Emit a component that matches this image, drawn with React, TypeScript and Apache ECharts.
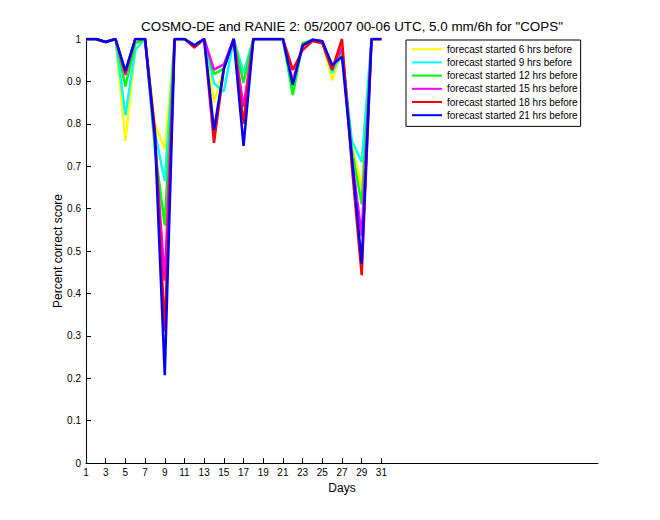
import React, { useEffect, useRef } from "react";
import * as echarts from "echarts";

const days = Array.from({ length: 31 }, (_, i) => i + 1);

const seriesNames = [
  "forecast started 6 hrs before",
  "forecast started 9 hrs before",
  "forecast started 12 hrs before",
  "forecast started 15 hrs before",
  "forecast started 18 hrs before",
  "forecast started 21 hrs before",
];

const seriesColors = ["#ffff00", "#00ffff", "#00ff00", "#ff00ff", "#ff0000", "#0000ff"];

const fc06 = [1, 1, 0.993, 1, 0.76, 0.975, 1, 0.8, 0.74, 1, 1, 0.985, 1, 0.85, 0.93, 1, 0.92, 1, 1, 1, 1, 0.88, 0.985, 0.998, 0.995, 0.903, 0.97, 0.75, 0.65, 1, 1];
const fc09 = [1, 1, 0.993, 1, 0.82, 0.974, 1, 0.78, 0.665, 1, 1, 0.985, 1, 0.895, 0.876, 1, 0.92, 1, 1, 1, 1, 0.885, 0.985, 0.998, 0.995, 0.92, 0.97, 0.76, 0.71, 1, 1];
const fc12 = [1, 1, 0.993, 1, 0.888, 0.99, 1, 0.74, 0.56, 1, 1, 0.985, 1, 0.917, 0.93, 1, 0.896, 1, 1, 1, 1, 0.868, 0.99, 0.998, 0.995, 0.93, 0.975, 0.74, 0.61, 1, 1];
const fc15 = [1, 1, 0.993, 1, 0.915, 1, 1, 0.76, 0.43, 1, 1, 0.985, 1, 0.928, 0.94, 1, 0.84, 1, 1, 1, 1, 0.9, 0.985, 0.998, 0.995, 0.93, 0.98, 0.72, 0.535, 1, 1];
const fc18 = [1, 1, 0.993, 1, 0.92, 1, 1, 0.785, 0.31, 1, 1, 0.98, 1, 0.755, 0.93, 1, 0.8, 1, 1, 1, 1, 0.927, 0.974, 0.995, 0.99, 0.927, 1, 0.7, 0.443, 1, 1];
const fc21 = [1, 1, 0.993, 1, 0.925, 1, 1, 0.77, 0.207, 1, 1, 0.985, 1, 0.785, 0.93, 1, 0.748, 1, 1, 1, 1, 0.892, 0.985, 0.998, 0.995, 0.939, 0.958, 0.72, 0.47, 1, 1];

const allSeries = [fc06, fc09, fc12, fc15, fc18, fc21];

const xTicks = [1, 3, 5, 7, 9, 11, 13, 15, 17, 19, 21, 23, 25, 27, 29, 31];

const titleText = 'COSMO-DE and RANIE 2: 05/2007 00-06 UTC, 5.0 mm/6h for "COPS"';
const yName = "Percent correct score";
const xName = "Days";

const FONT = "'Liberation Sans', Arial, Helvetica, sans-serif";

export default function App() {
  const ref = useRef<HTMLDivElement>(null);
  useEffect(() => {
    document.body.style.margin = "0";
    if (!ref.current) return;
    const chart = echarts.init(ref.current, null, { renderer: "svg" });
    chart.setOption({
      animation: false,
      backgroundColor: "#ffffff",
      textStyle: { fontFamily: FONT },
      title: {
        text: titleText,
        left: 347,
        top: 15,
        textAlign: "center",
        textStyle: { fontFamily: FONT, fontSize: 13.4, fontWeight: "normal", color: "#000" },
      },
      grid: { left: 86, right: 62, top: 39, bottom: 57, containLabel: false },
      legend: {
        left: 406,
        top: 40,
        orient: "vertical",
        itemWidth: 30,
        itemHeight: 13,
        itemGap: 2.8,
        padding: [4, 3, 6, 5],
        borderColor: "#000",
        borderWidth: 1,
        backgroundColor: "#fff",
        borderRadius: 0,
        itemStyle: { opacity: 0 },
        textStyle: { fontFamily: FONT, fontSize: 10, color: "#000" },
        data: seriesNames,
      },
      xAxis: {
        type: "value",
        min: 1,
        max: 53,
        name: xName,
        nameLocation: "middle",
        nameGap: 12,
        nameTextStyle: { fontFamily: FONT, fontSize: 12, color: "#000" },
        splitLine: { show: false },
        axisLine: { lineStyle: { color: "#000", width: 1 } },
        axisTick: { inside: true, length: 5, lineStyle: { color: "#000" }, customValues: xTicks },
        axisLabel: { fontFamily: FONT, fontSize: 10, color: "#000", margin: 4, customValues: xTicks },
      },
      yAxis: {
        type: "value",
        min: 0,
        max: 1,
        interval: 0.1,
        name: yName,
        nameLocation: "middle",
        nameGap: 22,
        nameMoveOverlap: false,
        nameTextStyle: { fontFamily: FONT, fontSize: 12, color: "#000" },
        splitLine: { show: false },
        axisLine: { show: true, lineStyle: { color: "#000", width: 1 } },
        axisTick: { show: true, inside: true, length: 5, lineStyle: { color: "#000" } },
        axisLabel: {
          fontFamily: FONT,
          fontSize: 10,
          color: "#000",
          margin: 5,
          formatter: (v: number) => String(Math.round(v * 10) / 10),
        },
      },
      series: allSeries.map((vals, i) => ({
        name: seriesNames[i],
        type: "line",
        data: days.map((d, j) => [d, vals[j]]),
        symbol: "none",
        showSymbol: false,
        lineStyle: { color: seriesColors[i], width: 2.5 },
        itemStyle: { color: seriesColors[i] },
        z: 2 + i,
      })),
    });
    return () => chart.dispose();
  }, []);
  return <div ref={ref} style={{ width: 660, height: 520 }} />;
}
